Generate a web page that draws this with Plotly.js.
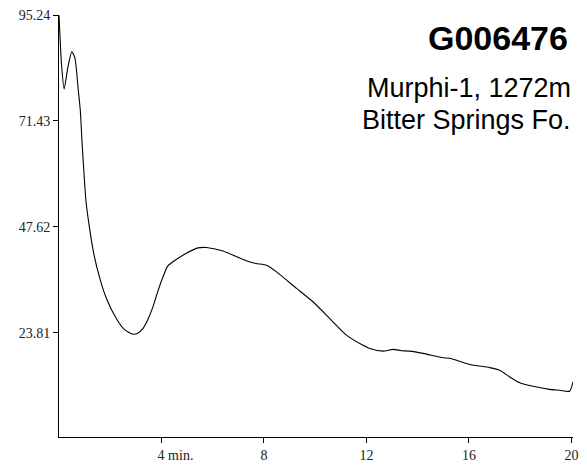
<!DOCTYPE html>
<html>
<head>
<meta charset="utf-8">
<script src="https://cdn.plot.ly/plotly-3.0.1.min.js"></script>
<style>
  html, body { margin: 0; padding: 0; background: #fff; }
  #chart { width: 587px; height: 466px; }
</style>
</head>
<body>
<div id="chart"></div>
<script>
// Retention time (minutes) and detector response for sample G006476
const timeMin = [
  0.00, 0.10, 0.20, 0.35, 0.50, 0.62, 0.75, 0.83, 0.905, 0.98,
  1.05, 1.175, 1.36, 1.61, 1.86, 2.23, 2.545, 2.89, 3.07, 3.28,
  3.46, 3.67, 3.85, 4.06, 4.24, 4.45, 4.71, 4.97, 5.43, 5.75,
  6.40, 7.31, 7.68, 8.10, 8.49, 9.27, 9.91, 10.57, 11.22, 11.74,
  12.13, 12.65, 13.04, 13.36, 13.69, 14.21, 14.99, 15.25, 16.03, 16.81,
  17.20, 17.59, 17.98, 18.50, 19.15, 19.54, 19.93, 20.06
];
const response = [
  95.2, 84.0, 78.6, 83.6, 87.0, 85.6, 78.5, 73.9, 66.0, 59.3,
  53.6, 48.0, 41.5, 35.7, 31.4, 27.1, 24.6, 23.5, 23.7, 24.8,
  26.7, 29.7, 33.0, 36.4, 38.8, 39.8, 40.8, 41.7, 42.9, 43.0,
  42.2, 40.0, 39.4, 39.0, 37.5, 33.8, 30.8, 27.0, 23.3, 21.4,
  20.3, 19.7, 20.1, 19.8, 19.7, 19.2, 18.2, 18.1, 16.7, 16.0,
  15.4, 13.9, 12.6, 11.8, 11.1, 10.9, 10.7, 12.8
];

// Axis ticks
const xTickVals = [4, 8, 12, 16, 20];
const xTickText = ['\u00a0\u00a0\u00a0\u00a0\u00a0\u00a0\u00a0\u00a04 min.', '8', '12', '16', '20'];
const yTickVals = [23.81, 47.62, 71.43, 95.24];
const yTickText = ['23.81', '47.62', '71.43', '95.24'];

// Sample labels
const sampleId = 'G006476';
const wellLine = 'Murphi-1, 1272m';
const formationLine = 'Bitter Springs Fo.';

const trace = {
  x: timeMin,
  y: response,
  type: 'scatter',
  mode: 'lines',
  line: { color: '#000', width: 1.1, shape: 'spline', smoothing: 0.6 },
  hoverinfo: 'skip'
};

const axisFont = { family: '"Liberation Serif", "Times New Roman", serif', size: 14, color: '#222' };
const labelFont = '"Liberation Sans", Arial, Helvetica, sans-serif';

const layout = {
  width: 587,
  height: 466,
  margin: { l: 59, r: 14, t: 15, b: 29 },
  paper_bgcolor: '#fff',
  plot_bgcolor: '#fff',
  showlegend: false,
  xaxis: {
    range: [0, 20.06],
    showgrid: false,
    zeroline: false,
    showline: true,
    linecolor: '#000',
    linewidth: 1,
    ticks: 'outside',
    ticklen: 5,
    tickcolor: '#000',
    tickvals: xTickVals,
    ticktext: xTickText,
    tickfont: axisFont
  },
  yaxis: {
    range: [0.4, 95.24],
    showgrid: false,
    zeroline: false,
    showline: true,
    linecolor: '#000',
    linewidth: 1,
    ticks: 'outside',
    ticklen: 5,
    tickcolor: '#000',
    tickvals: yTickVals,
    ticktext: yTickText,
    tickfont: axisFont
  },
  annotations: [
    {
      xref: 'paper', yref: 'paper', x: 0.994, y: 0.945,
      xanchor: 'right', yanchor: 'middle', showarrow: false,
      text: '<b>' + sampleId + '</b>',
      font: { family: labelFont, size: 34, color: '#000' }
    },
    {
      xref: 'paper', yref: 'paper', x: 1.0, y: 0.826,
      xanchor: 'right', yanchor: 'middle', showarrow: false,
      text: wellLine,
      font: { family: labelFont, size: 27, color: '#000' }
    },
    {
      xref: 'paper', yref: 'paper', x: 1.0, y: 0.751,
      xanchor: 'right', yanchor: 'middle', showarrow: false,
      text: formationLine,
      font: { family: labelFont, size: 27, color: '#000' }
    }
  ]
};

Plotly.newPlot('chart', [trace], layout, { staticPlot: true, displayModeBar: false });
</script>
</body>
</html>
